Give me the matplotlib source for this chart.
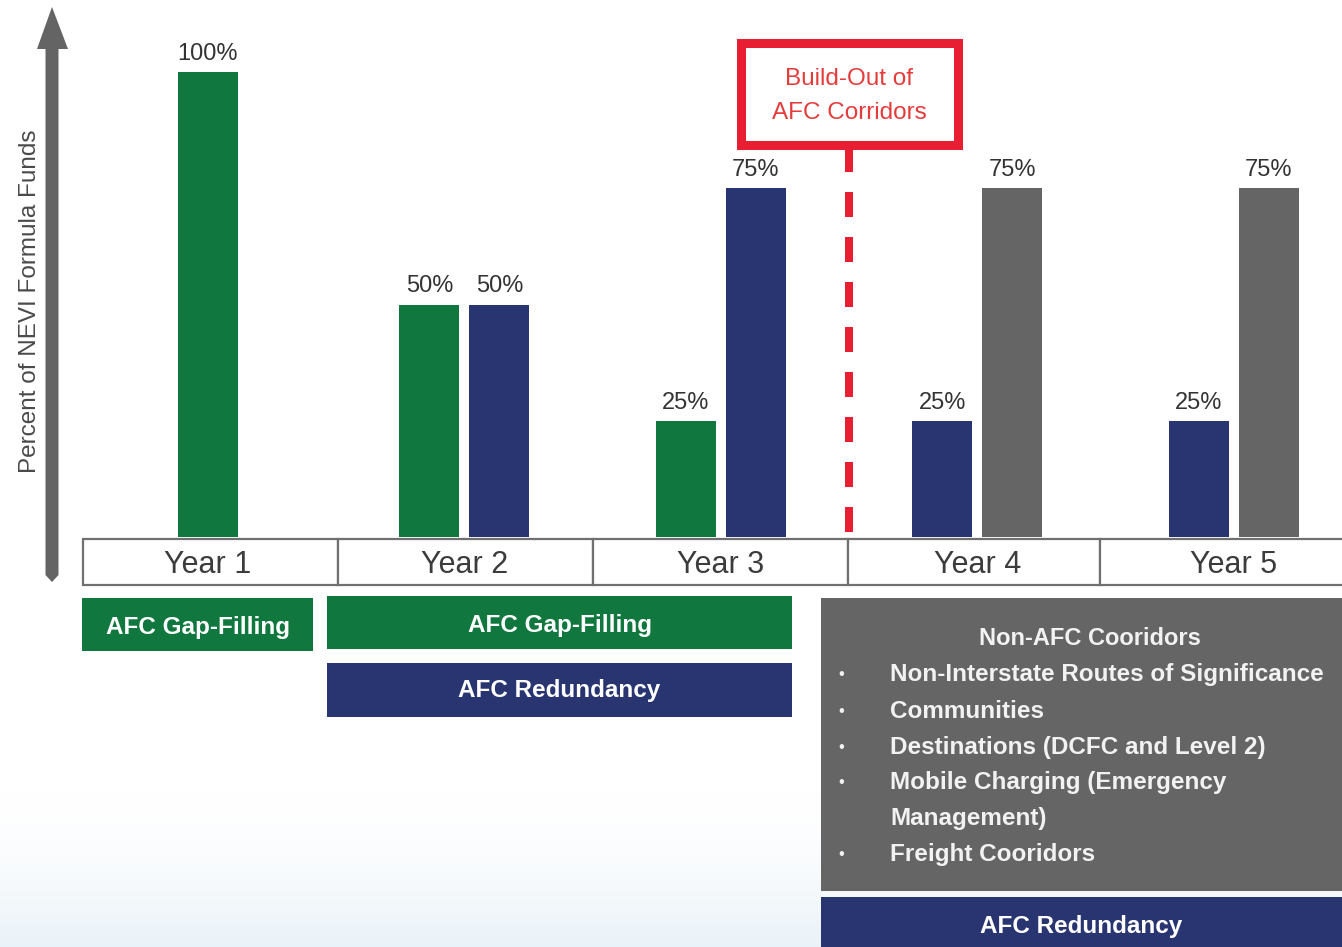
import numpy as np
import matplotlib
matplotlib.use("Agg")
import matplotlib.pyplot as plt
from matplotlib.patches import Rectangle, Polygon
from matplotlib import font_manager

# ---------------- data ----------------
years = ["Year 1", "Year 2", "Year 3", "Year 4", "Year 5"]
gap_filling = [100, 50, 25, 0, 0]
redundancy = [0, 50, 75, 25, 25]
non_afc = [0, 0, 0, 75, 75]
series_colors = ["#10783E", "#283570", "#646564"]
y_label = "Percent of NEVI Formula Funds"
buildout_text = "Build-Out of\nAFC Corridors"
non_afc_title = "Non-AFC Cooridors"
non_afc_lines = ["Non-Interstate Routes of Significance", "Communities",
                 "Destinations (DCFC and Level 2)", "Mobile Charging (Emergency",
                 "Management)", "Freight Cooridors"]
non_afc_bullets = [True, True, True, True, False, True]

plt.rcParams['font.family'] = ['Liberation Sans', 'DejaVu Sans']
installed = {f.name for f in font_manager.fontManager.ttflist}
narrow = "Liberation Sans Narrow" if "Liberation Sans Narrow" in installed else None

W, H = 1342, 947
fig = plt.figure(figsize=(W / 100, H / 100), dpi=100)
fig.patch.set_facecolor("white")

# overlay axes in pixel coordinates for annotation graphics
ov = fig.add_axes([0, 0, 1, 1])
ov.set_xlim(0, W)
ov.set_ylim(H, 0)
ov.axis("off")

# soft background gradient at the bottom
grad = np.zeros((200, 2, 4))
t = np.linspace(0, 1, 200)[:, None]
grad[..., 0] = 0.86
grad[..., 1] = 0.92
grad[..., 2] = 0.96
grad[..., 3] = (t ** 1.8) * 0.6
ov.imshow(grad, extent=(0, W, H, 780), aspect="auto", interpolation="bicubic", zorder=0)

# bar axes with data scale
px_per_unit = 256.5
left_px, right_px, base_px, top_px = 83, 1342, 537, 72
bx = fig.add_axes([left_px / W, (H - base_px) / H, (right_px - left_px) / W, (base_px - top_px) / H])
x0 = -0.487
bx.set_xlim(x0, x0 + (right_px - left_px) / px_per_unit)
bx.set_ylim(0, 100)
bx.patch.set_alpha(0)
for s in bx.spines.values():
    s.set_visible(False)
bx.set_yticks([])
bx.set_xticks(range(len(years)))
bx.set_xticklabels(years, fontsize=22, color="#3c3c3c")
bx.tick_params(axis="x", length=0, pad=9.5)

series = np.array([gap_filling, redundancy, non_afc])
bar_w = 60 / px_per_unit
spacing = 70 / px_per_unit
for i in range(len(years)):
    idx = [s for s in range(series.shape[0]) if series[s, i] > 0]
    n = len(idx)
    for k, s in enumerate(idx):
        xpos = i + (k - (n - 1) / 2) * spacing
        v = series[s, i]
        bx.bar(xpos, v, width=bar_w, color=series_colors[s], zorder=3)
        bx.annotate(f"{v}%", (xpos, v), xytext=(0, 13), textcoords="offset points",
                    ha="center", va="center", fontsize=17, color="#333333")

# dashed build-out line at the Year 3 / Year 4 boundary
bx.plot([2.5, 2.5], [(base_px - 147) / 4.65, 0], color="#E81E32", lw=5.76,
        linestyle=(0, (3.125, 2.5)), dash_capstyle="butt", clip_on=False, zorder=2)

# year boxes
bounds = [83, 338, 593, 848, 1100, 1356]
for a, b in zip(bounds[:-1], bounds[1:]):
    ov.add_patch(Rectangle((a, 539), b - a, 46, facecolor="white", edgecolor="#707070", lw=1.6, zorder=2))

# vertical arrow
arrow = Polygon([(52, 7), (68, 49), (58.5, 49), (58.5, 575), (52, 582), (45.5, 575), (45.5, 49), (37, 49)],
                closed=True, facecolor="#646464", edgecolor="none", zorder=2)
ov.add_patch(arrow)
if narrow:
    ov.text(30, 301, y_label, rotation=90, ha="center", va="center", fontsize=21,
            color="#4a4a4a", family=narrow)
else:
    ov.text(30, 301, y_label, rotation=90, ha="center", va="center", fontsize=17.5, color="#4a4a4a")

# red build-out box
ov.add_patch(Rectangle((740.5, 42.5), 217.5, 102, facecolor="white", edgecolor="#E81E32", lw=6.5, zorder=3))
if narrow:
    ov.text(849, 96, buildout_text, ha="center", va="center", fontsize=21, color="#E63B3B",
            linespacing=1.2, zorder=4, family=narrow)
else:
    ov.text(849, 96, buildout_text, ha="center", va="center", fontsize=17.5, color="#E63B3B",
            linespacing=1.65, zorder=4)

# bottom phase boxes
def box(x1, y1, x2, y2, color, label=None, ty=None):
    ov.add_patch(Rectangle((x1, y1), x2 - x1, y2 - y1, facecolor=color, edgecolor="none", zorder=2))
    if label:
        ov.text((x1 + x2) / 2, ty if ty else (y1 + y2) / 2, label, ha="center", va="center",
                fontsize=17.5, fontweight="bold", color="white", zorder=3)

box(82, 598, 313, 651, series_colors[0], "AFC Gap-Filling", 627)
box(327, 596, 792, 649, series_colors[0], "AFC Gap-Filling", 625)
box(327, 663, 792, 717, series_colors[1], "AFC Redundancy", 690)
box(821, 598, 1342, 891, "#656565")
box(821, 897, 1342, 947, series_colors[1], "AFC Redundancy", 926)

ov.text(1090, 638, non_afc_title, ha="center", va="center", fontsize=17,
        fontweight="bold", color="#f2f2f2", zorder=3)
line_y = [674, 711, 747, 782, 818, 854]
for yy, txt, bul in zip(line_y, non_afc_lines, non_afc_bullets):
    if bul:
        ov.text(841, yy, "\u2022", ha="center", va="center", fontsize=12, color="#f2f2f2", zorder=3)
    ov.text(890, yy, txt, ha="left", va="center", fontsize=17.5, fontweight="bold",
            color="#f2f2f2", zorder=3)

fig.savefig("out.png", dpi=100)
